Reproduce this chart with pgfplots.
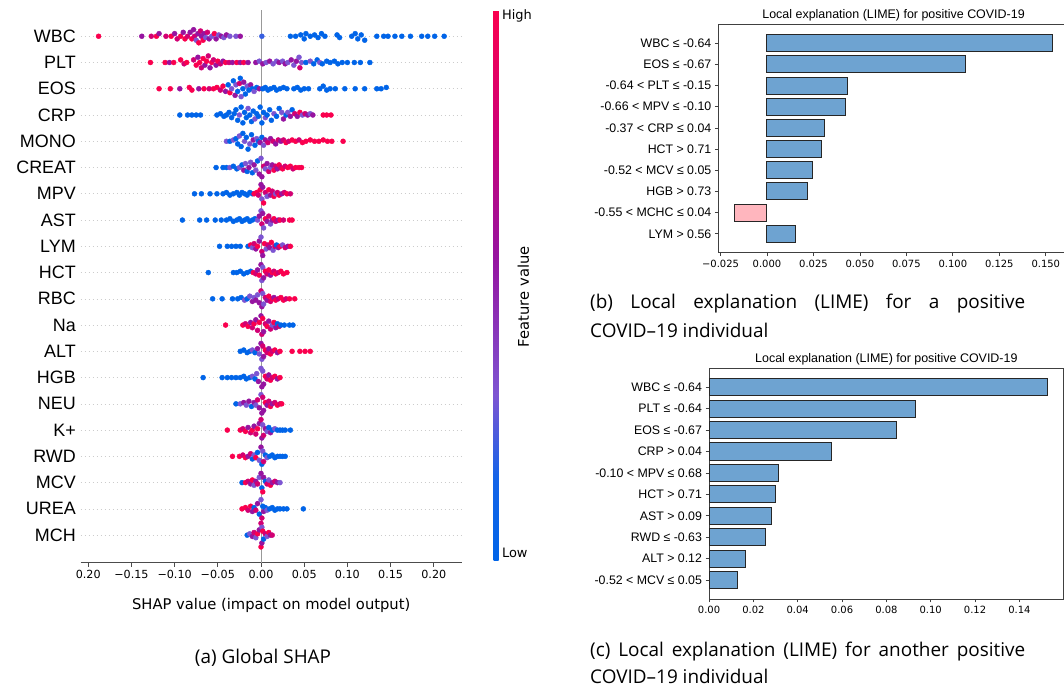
\documentclass[border=0pt]{standalone}
\usepackage{fontspec}
\setmainfont{Liberation Sans}
\newfontfamily\dejavu{DejaVu Sans}
\newfontfamily\capfont{Open Sans}
\usepackage{pgfplots}
\pgfplotsset{compat=1.18}

\definecolor{limeblue}{RGB}{110,163,209}
\definecolor{limepink}{RGB}{255,182,190}
\pgfplotsset{colormap={shap}{rgb255(0cm)=(0,100,232) rgb255(1.5cm)=(20,100,232) rgb255(3cm)=(125,85,210) rgb255(5.5cm)=(150,20,160) rgb255(8cm)=(210,0,115) rgb255(10cm)=(250,0,78)}}

\begin{document}
\begin{tikzpicture}
\useasboundingbox (0,0) rectangle (1064bp,689bp);

% (a) global SHAP beeswarm
\begin{axis}[
  at={(80.7bp,126.3bp)}, anchor=south west,
  scale only axis, width=381bp, height=552.7bp,
  xmin=-0.2087, xmax=0.2323, ymin=-1.05, ymax=20.0,
  axis lines*=left,
  x axis line style={-, draw=black!70, line width=0.9bp},
  y axis line style={draw=none},
  tick align=outside, major tick length=4bp,
  xtick style={black!70, line width=0.9bp}, ytick style={draw=none},
  xtick={-0.2,-0.15,-0.1,-0.05,0,0.05,0.1,0.15,0.2},
  xticklabels={0.20,−0.15,−0.10,−0.05,0.00,0.05,0.10,0.15,0.20},
  ytick={0,...,19},
  yticklabels={MCH,UREA,MCV,RWD,K+,NEU,HGB,ALT,Na,RBC,HCT,LYM,AST,MPV,CREAT,MONO,CRP,EOS,PLT,WBC},
  ymajorgrids, grid style={gray!40, line width=0.6bp, dash pattern=on 1bp off 3bp},
  xticklabel style={font=\dejavu\fontsize{11.2}{12}\selectfont},
  yticklabel style={font=\fontsize{18}{18}\selectfont, xshift=2.6bp},
  xlabel={SHAP value (impact on model output)},
  xlabel style={font=\dejavu\fontsize{14.8}{16}\selectfont, at={(axis description cs:0.5,0)}, anchor=center, yshift=-42.3bp},
  colormap name=shap, point meta min=0, point meta max=1,
  colorbar,
  colorbar style={
    at={(parent axis.north east)}, anchor=north west, xshift=23.3bp,
    scale only axis, width=5bp, height=550bp,
    axis line style={draw=none}, ytick style={draw=none},
    ytick={0.013,0.99}, yticklabels={Low,High},
    yticklabel style={font=\dejavu\fontsize{13}{13}\selectfont},
  },
]
\addplot[gray!80, line width=1bp, forget plot] coordinates {(0,-1.05) (0,20)};
\addplot[scatter, only marks, mark=*, mark size=2.5bp, scatter src=explicit,
  scatter/use mapped color={draw=mapped color, fill=mapped color}]
  table[row sep=\\, meta=c] {
x y c\\
-0.188 19 1\\ -0.138 19 0.55\\ -0.127 19 0.8\\ -0.121 19 1\\ -0.118 19.1 0.55\\ -0.110 19 0.8\\ -0.104 19 1\\ -0.100 19.1 0.55\\ -0.097 18.9 0.8\\ -0.093 19 1\\ -0.090 19.15 0.55\\ -0.088 18.9 1\\ -0.085 19 0.8\\ -0.082 19.15 0.55\\ -0.080 18.9 1\\ -0.078 19.25 0.55\\ -0.077 19 0.8\\ -0.075 18.85 0.3\\ -0.073 19.1 0.55\\ -0.072 18.75 1\\ -0.070 19.2 0.8\\ -0.069 19 0.55\\ -0.067 18.85 1\\ -0.066 19.1 0.55\\ -0.064 18.95 0.3\\ -0.062 19.15 0.8\\ -0.060 18.9 0.55\\ -0.057 19 0.3\\ -0.054 19.1 1\\ -0.052 18.9 0.55\\ -0.049 19.05 0.3\\ -0.046 19 0.55\\ -0.043 18.95 0.3\\ -0.040 19.05 0.55\\ -0.036 19 0.3\\ -0.029 19 0.3\\ -0.024 19 0.55\\ 0.001 19 0.2\\ 0.034 19 0\\ 0.040 19 0\\ 0.046 19.05 0\\ 0.050 18.9 0\\ 0.052 19.1 0\\ 0.057 19 0\\ 0.062 19.05 0\\ 0.066 18.95 0\\ 0.070 19.1 0\\ 0.074 19 0\\ 0.088 19.05 0\\ 0.091 18.95 0\\ 0.105 19 0\\ 0.109 19.1 0\\ 0.112 18.9 0\\ 0.116 19.05 0\\ 0.120 18.85 0\\ 0.134 19 0\\ 0.142 19 0\\ 0.147 19 0\\ 0.155 19 0\\ 0.163 19 0\\ 0.173 19 0\\ 0.186 19 0\\ 0.193 19 0\\ 0.201 19 0\\ 0.212 19 0\\
-0.128 18 1\\ -0.111 18 1\\ -0.106 18 0.55\\ -0.101 18 1\\ -0.093 18.1 1\\ -0.089 17.95 0.8\\ -0.086 18 1\\ -0.078 18.1 0.8\\ -0.075 17.9 1\\ -0.073 18.2 0.55\\ -0.071 18 1\\ -0.069 17.8 0.8\\ -0.067 18.15 1\\ -0.065 17.9 0.55\\ -0.063 18.05 1\\ -0.061 18.25 0.8\\ -0.059 17.8 0.55\\ -0.057 18 1\\ -0.055 18.1 0.8\\ -0.052 17.9 0.55\\ -0.050 18.05 1\\ -0.047 17.95 0.8\\ -0.044 18.05 0.55\\ -0.041 18 1\\ -0.037 18 0.8\\ -0.033 18 0.55\\ -0.028 18 1\\ -0.024 18 0.55\\ -0.020 18 1\\ -0.015 18 0.55\\ -0.006 18 0.55\\ -0.002 18.05 0.3\\ 0.002 17.95 0.55\\ 0.006 18 0.3\\ 0.010 18.05 0.55\\ 0.014 17.95 0.3\\ 0.018 18.05 0.3\\ 0.021 18 0.55\\ 0.025 18.05 0.3\\ 0.028 17.95 0.55\\ 0.031 18 0.3\\ 0.035 18.1 0.55\\ 0.038 17.9 0.3\\ 0.041 18.05 0.55\\ 0.044 18.2 0.3\\ 0.045 17.8 0.8\\ 0.047 18 0.3\\ 0.052 18 0\\ 0.057 18.05 0.3\\ 0.061 17.95 0\\ 0.065 18.1 0\\ 0.068 18 0.3\\ 0.071 17.95 0\\ 0.076 18.05 0\\ 0.080 18 0\\ 0.085 18.05 0\\ 0.089 17.95 0\\ 0.094 18 0\\ 0.100 18 0\\ 0.108 18 0\\ 0.115 18 0\\ 0.126 18 0\\
-0.118 17 1\\ -0.105 17 1\\ -0.094 17 0.55\\ -0.083 17.05 1\\ -0.080 16.95 1\\ -0.072 17 0.55\\ -0.066 17 1\\ -0.060 17 0.8\\ -0.055 17 1\\ -0.051 17.05 1\\ -0.047 16.95 0.8\\ -0.044 17.1 1\\ -0.041 16.9 0.55\\ -0.038 17.15 0\\ -0.036 16.85 1\\ -0.034 17 0.3\\ -0.032 17.3 0\\ -0.030 16.75 0.55\\ -0.029 17.15 0.3\\ -0.027 16.9 0\\ -0.025 17.2 0.8\\ -0.024 17.4 0\\ -0.023 16.7 0.3\\ -0.021 17 0\\ -0.020 17.25 0.55\\ -0.018 16.8 0\\ -0.016 17.1 0.3\\ -0.014 16.95 0\\ -0.012 17.15 0.55\\ -0.010 17 0\\ -0.008 16.9 0.3\\ -0.005 17.05 0\\ -0.002 17 0.55\\ 0.002 17 0\\ 0.005 17.05 0\\ 0.008 16.95 0\\ 0.011 17 0\\ 0.015 17.05 0\\ 0.018 16.95 0\\ 0.022 17 0\\ 0.026 17.05 0\\ 0.030 17 0\\ 0.038 17 0\\ 0.042 17.05 0\\ 0.046 16.95 0\\ 0.050 17 0\\ 0.055 17 0\\ 0.068 17 0\\ 0.072 17.1 0\\ 0.076 16.95 0\\ 0.080 17 0\\ 0.086 17 0\\ 0.097 17 0\\ 0.109 17 0\\ 0.120 17 0\\ 0.134 17 0\\ 0.139 17 0\\ 0.145 17.05 0\\
-0.094 16 0\\ -0.085 16 0\\ -0.080 16 0\\ -0.075 16 0\\ -0.070 16 0\\ -0.051 16 0\\ -0.047 16.05 0\\ -0.043 15.95 0\\ -0.040 16 0\\ -0.037 16.1 0\\ -0.034 15.9 0\\ -0.031 16.05 0\\ -0.029 16.2 0\\ -0.027 15.8 0\\ -0.025 16 0.3\\ -0.023 16.3 0\\ -0.021 15.7 0\\ -0.019 16.1 0\\ -0.017 15.9 0\\ -0.015 16.25 0.3\\ -0.013 16 0\\ -0.011 15.75 0\\ -0.009 16.15 0\\ -0.007 15.85 0.3\\ -0.005 16.05 0\\ -0.003 15.95 0\\ -0.001 16.3 0\\ 0.001 15.7 0\\ 0.003 16.1 0\\ 0.005 15.9 0.3\\ 0.007 16 0\\ 0.010 16.2 0\\ 0.012 15.8 0\\ 0.015 16.05 0.3\\ 0.018 15.95 0\\ 0.021 16.25 0\\ 0.024 16.1 0.3\\ 0.026 15.85 0.55\\ 0.029 16 0\\ 0.031 16.1 0.3\\ 0.034 15.95 0.55\\ 0.036 16.2 0\\ 0.039 16.05 0.8\\ 0.042 15.95 0.55\\ 0.045 16.1 1\\ 0.048 16 0.3\\ 0.051 16.05 0.8\\ 0.054 16 0.55\\ 0.057 16.05 0.3\\ 0.060 16 0.55\\ 0.072 16 1\\ 0.076 16 1\\ 0.081 16 1\\
-0.040 15 0.3\\ -0.036 15 0\\ -0.032 15.05 0.3\\ -0.029 15.1 0\\ -0.027 14.9 0\\ -0.025 15.2 0.3\\ -0.023 14.8 0\\ -0.021 15.3 0\\ -0.019 15 0.3\\ -0.017 15.15 0\\ -0.015 14.7 0\\ -0.013 14.9 0.3\\ -0.011 15.25 0\\ -0.009 15.05 0.55\\ -0.007 14.85 0\\ -0.005 15.1 0.3\\ -0.003 15 0\\ -0.001 14.95 0.55\\ 0.001 15.15 0\\ 0.003 14.85 0.3\\ 0.005 15.05 0.55\\ 0.008 14.95 0.8\\ 0.011 15.1 0.55\\ 0.014 15 0.8\\ 0.017 14.9 0.55\\ 0.020 15.05 0.8\\ 0.023 15 0.55\\ 0.026 15.05 0.8\\ 0.029 14.95 1\\ 0.032 15 0.8\\ 0.036 15.05 1\\ 0.040 15 1\\ 0.044 15.05 0.8\\ 0.048 14.95 1\\ 0.052 15 1\\ 0.057 15.05 1\\ 0.062 15 1\\ 0.067 15 1\\ 0.072 15.05 1\\ 0.077 15 1\\ 0.082 15 1\\ 0.095 15 1\\
-0.052 14 0\\ -0.044 14 0\\ -0.040 14 0\\ -0.036 14 0.3\\ -0.032 14.05 0\\ -0.028 13.95 0\\ -0.025 14 0.3\\ -0.022 14.1 0\\ -0.020 13.9 0.55\\ -0.018 14.15 0.3\\ -0.016 13.85 0\\ -0.014 14 0.55\\ -0.012 14.2 0.3\\ -0.010 13.8 0\\ -0.008 14.1 0.55\\ -0.006 13.9 0.3\\ -0.004 14.25 0\\ -0.002 13.75 0.55\\ 0.000 14.35 0.3\\ 0.001 13.65 0.55\\ 0.003 14.05 0.8\\ 0.005 13.95 0.3\\ 0.007 14.15 0.55\\ 0.009 13.85 0.8\\ 0.011 14 0.3\\ 0.013 14.1 0.55\\ 0.015 13.9 1\\ 0.017 14.05 0.8\\ 0.019 13.95 0.55\\ 0.021 14.1 1\\ 0.023 14 0.8\\ 0.025 13.95 1\\ 0.028 14.05 0.8\\ 0.031 14 1\\ 0.034 14.05 1\\ 0.037 13.95 0.8\\ 0.040 14 1\\ 0.044 14 1\\ 0.047 14 1\\
-0.077 13 0\\ -0.069 13 0\\ -0.059 13 0\\ -0.051 13 0\\ -0.044 13 0\\ -0.040 13.05 0\\ -0.036 12.95 0\\ -0.032 13 0\\ -0.028 13.05 0\\ -0.025 12.95 0\\ -0.022 13.05 0\\ -0.019 13 0\\ -0.016 12.95 0\\ -0.013 13.05 0\\ -0.010 13 0\\ -0.008 13 1\\ -0.005 13.05 1\\ -0.003 12.95 0.8\\ -0.001 13.15 1\\ 0.000 13.35 0.55\\ 0.001 12.8 0.3\\ 0.002 13.25 0.55\\ 0.003 12.65 1\\ 0.005 13.05 0.8\\ 0.007 12.9 0.3\\ 0.009 13.15 1\\ 0.011 12.95 0.55\\ 0.013 13.1 0.8\\ 0.015 12.9 1\\ 0.017 13 0.3\\ 0.019 13.05 0.8\\ 0.021 12.95 1\\ 0.024 13 0.55\\ 0.027 13.05 0.8\\ 0.030 13 1\\ 0.034 13 0.8\\
-0.091 12 0\\ -0.071 12 0\\ -0.063 12 0\\ -0.053 12 0\\ -0.046 12 0\\ -0.040 12 0\\ -0.036 12.05 0\\ -0.032 11.95 0\\ -0.028 12 0\\ -0.025 12.05 0\\ -0.022 11.95 0\\ -0.019 12 0\\ -0.016 12.05 0\\ -0.013 11.95 0\\ -0.010 12 0\\ -0.007 12.05 0\\ -0.004 12 0.3\\ -0.002 12.15 0.55\\ 0.000 12.35 0.3\\ 0.001 11.85 0.8\\ 0.002 12.25 0.55\\ 0.003 11.7 0.3\\ 0.005 12.05 1\\ 0.007 11.95 0.55\\ 0.009 12.15 0.8\\ 0.011 11.85 0.3\\ 0.013 12 0.55\\ 0.015 12.05 1\\ 0.017 11.95 0.8\\ 0.020 12 0.55\\ 0.022 12 1\\ 0.026 12 0.8\\ 0.033 12 1\\ 0.036 12 1\\
-0.048 11 0\\ -0.039 11 0\\ -0.034 11 0\\ -0.029 11 0\\ -0.024 11 0\\ -0.015 11 0\\ -0.012 11.05 1\\ -0.010 10.95 0.3\\ -0.008 11.1 0.8\\ -0.006 10.9 0.55\\ -0.004 11 1\\ -0.002 11.2 0.55\\ 0.000 11.35 0.3\\ 0.001 10.8 0.8\\ 0.002 10.65 0.55\\ 0.004 11.1 1\\ 0.006 10.9 0.3\\ 0.008 11.05 0.8\\ 0.010 10.95 0.55\\ 0.012 11.15 1\\ 0.014 10.85 0.3\\ 0.016 11 0.8\\ 0.018 11.05 0\\ 0.020 10.95 0.55\\ 0.022 11 1\\ 0.025 11.05 0.3\\ 0.028 10.95 0.8\\ 0.031 11 0.55\\ 0.034 11 1\\
-0.061 10 0\\ -0.032 10 0\\ -0.028 10 0\\ -0.024 10.05 0\\ -0.020 9.95 0\\ -0.016 10 0\\ -0.012 10.05 0\\ -0.009 10 1\\ -0.006 9.95 0.8\\ -0.004 10.1 0.55\\ -0.002 9.9 1\\ 0.000 10.3 0.55\\ 0.001 9.7 0.3\\ 0.002 10.2 0.3\\ 0.003 9.8 0.55\\ 0.005 10.05 1\\ 0.007 9.95 0.8\\ 0.009 10.1 1\\ 0.011 9.9 0.55\\ 0.013 10 1\\ 0.015 10.05 0.8\\ 0.017 9.95 1\\ 0.020 10 0.8\\ 0.023 10.05 1\\ 0.026 9.95 1\\ 0.030 10 1\\
-0.056 9 0\\ -0.045 9 0\\ -0.033 9 0\\ -0.027 9 0\\ -0.023 9.05 0\\ -0.019 8.95 0.3\\ -0.016 9 0\\ -0.013 9.1 0.3\\ -0.010 8.9 0.55\\ -0.008 9.05 0.3\\ -0.006 8.95 0.55\\ -0.004 9.15 0.3\\ -0.002 8.85 0.55\\ 0.000 9.3 0.8\\ 0.001 8.7 0.55\\ 0.002 9.2 0.3\\ 0.003 8.8 0.3\\ 0.005 9.05 0.8\\ 0.007 8.95 0.55\\ 0.009 9.1 1\\ 0.011 8.9 0.8\\ 0.013 9 1\\ 0.015 9.05 0.55\\ 0.017 8.95 1\\ 0.020 9 0.8\\ 0.023 9.05 1\\ 0.026 8.95 1\\ 0.029 9 0.8\\ 0.033 9 1\\ 0.039 9 1\\
-0.041 8 1\\ -0.021 8 1\\ -0.018 8.05 0.8\\ -0.015 7.95 1\\ -0.012 8.1 0.55\\ -0.010 7.9 0.8\\ -0.008 8.05 1\\ -0.006 8.2 0.55\\ -0.004 7.8 0.8\\ -0.002 8.1 1\\ 0.000 8.35 0.55\\ 0.001 7.65 0.8\\ 0.002 8.25 1\\ 0.003 7.75 0.55\\ 0.005 8.05 0.8\\ 0.007 7.95 1\\ 0.009 8.15 0.55\\ 0.011 7.85 0.8\\ 0.013 8 0.3\\ 0.015 8.1 1\\ 0.017 7.9 0.55\\ 0.019 8.05 0\\ 0.021 7.95 0.8\\ 0.023 8 0\\ 0.027 8 0\\ 0.033 8 0\\ 0.037 8 0\\
-0.024 7 0\\ -0.020 7.05 0\\ -0.016 6.95 0\\ -0.013 7 0\\ -0.010 7.05 0.3\\ -0.007 6.95 0\\ -0.004 7.1 0.55\\ -0.002 6.9 0.3\\ 0.000 7.3 0.55\\ 0.001 6.7 0.3\\ 0.002 7.2 0.8\\ 0.003 6.8 0.55\\ 0.005 7.05 1\\ 0.007 6.95 0.8\\ 0.009 7.1 0.55\\ 0.011 6.9 1\\ 0.013 7 0.8\\ 0.016 7.05 1\\ 0.019 6.95 0.55\\ 0.022 7 1\\ 0.036 7 1\\ 0.045 7 1\\ 0.051 7 1\\ 0.057 7 1\\
-0.067 6 0\\ -0.045 6 0\\ -0.039 6 0\\ -0.034 6 0\\ -0.029 6 0\\ -0.024 6 0\\ -0.020 6.05 0\\ -0.017 5.95 0\\ -0.013 6 0\\ -0.010 6.05 0.3\\ -0.007 5.95 0\\ -0.005 6.15 0.3\\ -0.003 5.85 0.55\\ 0.000 6.35 0.3\\ 0.001 5.65 0.55\\ 0.002 6.25 0.3\\ 0.003 5.75 0.55\\ 0.005 6.05 1\\ 0.007 5.95 0.8\\ 0.009 6.1 0.55\\ 0.011 5.9 1\\ 0.013 6 0.8\\ 0.016 6.05 1\\ 0.019 5.95 0.55\\ 0.022 6 1\\
-0.029 5 0\\ -0.024 5 0.3\\ -0.020 5.05 0.55\\ -0.017 4.95 0.3\\ -0.014 5.1 0.55\\ -0.011 4.9 0\\ -0.008 5.05 0.55\\ -0.006 4.95 0.3\\ -0.004 5.15 0.8\\ -0.002 4.85 0.55\\ 0.000 5.35 0.3\\ 0.001 4.65 0.55\\ 0.002 5.25 0.8\\ 0.003 4.75 0.55\\ 0.005 5.05 1\\ 0.007 4.95 0.55\\ 0.009 5.1 0.8\\ 0.011 4.9 1\\ 0.013 5 0.55\\ 0.016 5.05 0.8\\ 0.019 4.95 1\\ 0.022 5 0.8\\ 0.024 5 1\\
-0.039 4 1\\ -0.024 4 1\\ -0.021 4.05 0.8\\ -0.018 3.95 1\\ -0.015 4.1 0.55\\ -0.012 3.9 0.8\\ -0.010 4 1\\ -0.008 4.15 0.55\\ -0.006 3.85 0.8\\ -0.004 4.05 1\\ -0.002 4.25 0.55\\ 0.000 4.4 0.8\\ 0.001 3.7 0.55\\ 0.002 4.2 0.3\\ 0.003 3.8 0.8\\ 0.005 4.05 0.55\\ 0.007 3.95 0.3\\ 0.009 4.1 0\\ 0.011 3.9 0.55\\ 0.013 4 0\\ 0.016 4.05 0.3\\ 0.019 4 0\\ 0.022 4 0\\ 0.025 4 0\\ 0.028 4 0\\ 0.034 4 0\\
-0.033 3 1\\ -0.025 3 1\\ -0.021 3.05 0.8\\ -0.018 2.95 1\\ -0.015 3 0.55\\ -0.012 3.1 0.8\\ -0.010 2.9 0\\ -0.008 3.05 0.3\\ -0.006 2.95 1\\ -0.004 3.15 0\\ -0.002 2.85 0.3\\ 0.000 3.35 0.55\\ 0.001 2.7 0\\ 0.002 3.2 0.3\\ 0.003 2.8 0.8\\ 0.005 3.05 0\\ 0.007 2.95 0.3\\ 0.010 3 0\\ 0.013 3.05 0\\ 0.016 2.95 0\\ 0.019 3 0\\ 0.022 3 0\\ 0.025 3 0\\ 0.028 3 0\\
-0.022 2 0\\ -0.018 2 1\\ -0.015 2.05 0.8\\ -0.012 1.95 0.55\\ -0.010 2.1 1\\ -0.008 1.9 0.3\\ -0.006 2.05 0.55\\ -0.004 1.95 0.8\\ -0.002 2.2 0.3\\ 0.000 2.35 0.55\\ 0.001 1.8 0\\ 0.002 1.65 1\\ 0.003 2.2 0.55\\ 0.005 2.05 0\\ 0.007 1.95 0.8\\ 0.009 2.1 0.3\\ 0.011 1.9 1\\ 0.013 2 0.55\\ 0.016 2.05 0.8\\ 0.019 2 0.55\\ 0.022 2 0.3\\
-0.022 1 1\\ -0.018 1.05 1\\ -0.015 0.95 0.8\\ -0.012 1.1 1\\ -0.010 0.9 0.55\\ -0.008 1.05 0\\ -0.006 0.95 0.8\\ -0.004 1.2 0.55\\ -0.002 0.8 0\\ 0.000 1.35 0.3\\ 0.001 0.65 0.8\\ 0.002 1.1 0\\ 0.003 0.9 0.55\\ 0.005 1.05 0\\ 0.007 0.95 0.3\\ 0.010 1 0\\ 0.013 1.05 0\\ 0.016 0.95 0\\ 0.019 1 0\\ 0.022 1 0\\ 0.026 1 0\\ 0.030 1 0\\ 0.049 1 0\\
-0.016 0 0\\ -0.013 0.05 0.3\\ -0.010 -0.05 0.55\\ -0.008 0.1 0.8\\ -0.006 -0.1 0.3\\ -0.004 0.05 1\\ -0.002 0.2 0.55\\ 0.000 0.45 0.8\\ 0.000 -0.45 1\\ 0.001 0.3 0.3\\ 0.001 -0.3 0.55\\ 0.002 0.15 1\\ 0.003 -0.15 0\\ 0.005 0.05 0.8\\ 0.007 -0.05 0.3\\ 0.009 0.1 1\\ 0.011 0 0.55\\ 0.013 0 0.8\\
};
\end{axis}
\node[rotate=90, font=\dejavu\fontsize{14.8}{16}\selectfont] at (523.3bp,392.3bp) {Feature value};

% (b) LIME, first individual
\begin{axis}[
  at={(718.3bp,436.3bp)}, anchor=south west,
  scale only axis, width=350.5bp, height=228.4bp,
  xmin=-0.0262, xmax=0.1624, ymin=-0.89, ymax=9.89,
  axis line style={black!75, line width=0.8bp},
  tick align=outside, major tick length=3.5bp, tick style={black!75, line width=0.8bp},
  xtick pos=bottom, ytick pos=left,
  xtick={-0.025,0,0.025,0.05,0.075,0.1,0.125,0.15},
  xticklabels={−0.025,0.000,0.025,0.050,0.075,0.100,0.125,0.150},
  ytick={0,...,9},
  yticklabels={{LYM > 0.56},{-0.55 < MCHC ≤ 0.04},{HGB > 0.73},{-0.52 < MCV ≤ 0.05},{HCT > 0.71},{-0.37 < CRP ≤ 0.04},{-0.66 < MPV ≤ -0.10},{-0.64 < PLT ≤ -0.15},{EOS ≤ -0.67},{WBC ≤ -0.64}},
  xticklabel style={font=\dejavu\fontsize{10}{10}\selectfont},
  yticklabel style={font=\fontsize{12.4}{12.4}\selectfont},
  title={Local explanation (LIME) for positive COVID-19},
  title style={font=\fontsize{12.5}{12.5}\selectfont, anchor=center, yshift=2.7bp},
]
\addplot[xbar, bar width=0.8, bar shift=0pt, fill=limeblue, draw=black!85, line width=1bp]
  coordinates {(0.1538,9) (0.1070,8) (0.0433,7) (0.0421,6) (0.0310,5) (0.0292,4) (0.0245,3) (0.0217,2) (0.0151,0)};
\addplot[xbar, bar width=0.8, bar shift=0pt, fill=limepink, draw=black!85, line width=1bp]
  coordinates {(-0.0176,1)};
\end{axis}

% (c) LIME, second individual
\begin{axis}[
  at={(709bp,90bp)}, anchor=south west,
  scale only axis, width=354.7bp, height=230.7bp,
  xmin=0, xmax=0.16, ymin=-0.88, ymax=9.88,
  axis line style={black!75, line width=0.8bp},
  tick align=outside, major tick length=3.5bp, tick style={black!75, line width=0.8bp},
  xtick pos=bottom, ytick pos=left,
  xtick={0,0.02,0.04,0.06,0.08,0.1,0.12,0.14},
  xticklabels={0.00,0.02,0.04,0.06,0.08,0.10,0.12,0.14},
  ytick={0,...,9},
  yticklabels={{-0.52 < MCV ≤ 0.05},{ALT > 0.12},{RWD ≤ -0.63},{AST > 0.09},{HCT > 0.71},{-0.10 < MPV ≤ 0.68},{CRP > 0.04},{EOS ≤ -0.67},{PLT ≤ -0.64},{WBC ≤ -0.64}},
  xticklabel style={font=\dejavu\fontsize{10}{10}\selectfont},
  yticklabel style={font=\fontsize{12.4}{12.4}\selectfont},
  title={Local explanation (LIME) for positive COVID-19},
  title style={font=\fontsize{12.5}{12.5}\selectfont, anchor=center, yshift=2.7bp},
]
\addplot[xbar, bar width=0.8, bar shift=0pt, fill=limeblue, draw=black!85, line width=1bp]
  coordinates {(0.1528,9) (0.0931,8) (0.0845,7) (0.0553,6) (0.0314,5) (0.0299,4) (0.0284,3) (0.0253,2) (0.0165,1) (0.0128,0)};
\end{axis}

% captions
\node[font=\capfont\fontsize{19}{22}\selectfont] at (263bp,30.7bp) {(a) Global SHAP};
\node[anchor=west, font=\capfont\fontsize{19}{22}\selectfont] at (586.7bp,385.7bp) {\makebox[435bp][s]{(b) Local explanation (LIME) for a positive}};
\node[anchor=west, font=\capfont\fontsize{19}{22}\selectfont] at (586.7bp,359bp) {COVID–19 individual};
\node[anchor=west, font=\capfont\fontsize{19}{22}\selectfont] at (586.7bp,37.3bp) {\makebox[435bp][s]{(c) Local explanation (LIME) for another positive}};
\node[anchor=west, font=\capfont\fontsize{19}{22}\selectfont] at (586.7bp,12.3bp) {COVID–19 individual};
\end{tikzpicture}
\end{document}
